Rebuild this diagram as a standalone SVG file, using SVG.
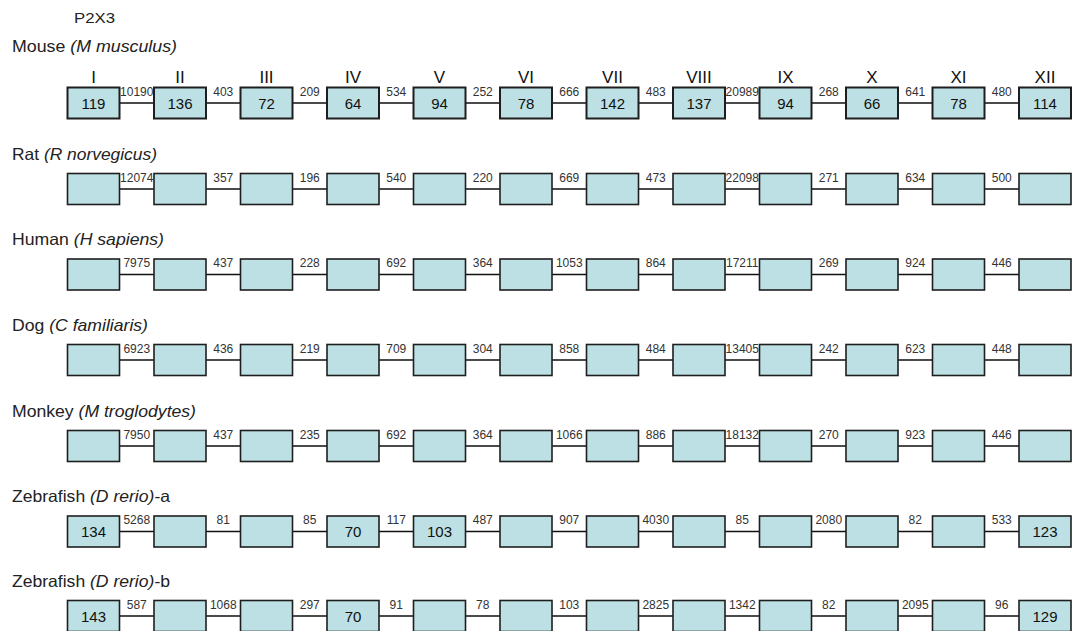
<svg xmlns="http://www.w3.org/2000/svg" width="1075" height="631" viewBox="0 0 1075 631">
<style>
.bg{fill:#ffffff}
.box{fill:#bce0e3;stroke:#1e1e1e;stroke-width:1.6}
.mb{stroke-width:2}
.lbl{font-family:"Liberation Sans",Arial,sans-serif;font-size:16.5px;fill:#222}
.it{font-style:italic}
.num{font-family:"Liberation Sans",Arial,sans-serif;font-size:15px;fill:#111;text-anchor:middle}
.gap{font-family:"Liberation Sans",Arial,sans-serif;font-size:12px;fill:#333;text-anchor:middle}
.rom{font-family:"Liberation Sans",Arial,sans-serif;font-size:17px;fill:#111;text-anchor:middle}
.con{fill:none;stroke:#111;stroke-width:1.5}
</style>
<rect class="bg" x="0" y="0" width="1075" height="631"/>
<text class="lbl" x="74" y="23" textLength="41" lengthAdjust="spacingAndGlyphs" style="font-size:15px">P2X3</text>
<text class="lbl" x="12" y="51.5" textLength="165" lengthAdjust="spacingAndGlyphs">Mouse <tspan class="it">(M musculus)</tspan></text>
<text class="lbl" x="12" y="159.5" textLength="145" lengthAdjust="spacingAndGlyphs">Rat <tspan class="it">(R norvegicus)</tspan></text>
<text class="lbl" x="12" y="245" textLength="152" lengthAdjust="spacingAndGlyphs">Human <tspan class="it">(H sapiens)</tspan></text>
<text class="lbl" x="12" y="330.5" textLength="136" lengthAdjust="spacingAndGlyphs">Dog <tspan class="it">(C familiaris)</tspan></text>
<text class="lbl" x="12" y="416.5" textLength="184" lengthAdjust="spacingAndGlyphs">Monkey <tspan class="it">(M troglodytes)</tspan></text>
<text class="lbl" x="12" y="502" textLength="158" lengthAdjust="spacingAndGlyphs">Zebrafish <tspan class="it">(D rerio)</tspan>-a</text>
<text class="lbl" x="12" y="586.5" textLength="158" lengthAdjust="spacingAndGlyphs">Zebrafish <tspan class="it">(D rerio)</tspan>-b</text>
<g id="exon-numerals">
<text class="rom" x="93.5" y="83">I</text>
<text class="rom" x="180" y="83">II</text>
<text class="rom" x="266.5" y="83">III</text>
<text class="rom" x="353" y="83">IV</text>
<text class="rom" x="439.5" y="83">V</text>
<text class="rom" x="526" y="83">VI</text>
<text class="rom" x="612.5" y="83">VII</text>
<text class="rom" x="699" y="83">VIII</text>
<text class="rom" x="785.5" y="83">IX</text>
<text class="rom" x="872" y="83">X</text>
<text class="rom" x="958.5" y="83">XI</text>
<text class="rom" x="1045" y="83">XII</text>
</g>
<g id="connectors">
<path class="con" d="M119.5 103H154M206 103H240.5M292.5 103H327M379 103H413.5M465.5 103H500M552 103H586.5M638.5 103H673M725 103H759.5M811.5 103H846M898 103H932.5M984.5 103H1019"/>
<path class="con" d="M119.5 189H154M206 189H240.5M292.5 189H327M379 189H413.5M465.5 189H500M552 189H586.5M638.5 189H673M725 189H759.5M811.5 189H846M898 189H932.5M984.5 189H1019"/>
<path class="con" d="M119.5 274.5H154M206 274.5H240.5M292.5 274.5H327M379 274.5H413.5M465.5 274.5H500M552 274.5H586.5M638.5 274.5H673M725 274.5H759.5M811.5 274.5H846M898 274.5H932.5M984.5 274.5H1019"/>
<path class="con" d="M119.5 360H154M206 360H240.5M292.5 360H327M379 360H413.5M465.5 360H500M552 360H586.5M638.5 360H673M725 360H759.5M811.5 360H846M898 360H932.5M984.5 360H1019"/>
<path class="con" d="M119.5 446H154M206 446H240.5M292.5 446H327M379 446H413.5M465.5 446H500M552 446H586.5M638.5 446H673M725 446H759.5M811.5 446H846M898 446H932.5M984.5 446H1019"/>
<path class="con" d="M119.5 531.5H154M206 531.5H240.5M292.5 531.5H327M379 531.5H413.5M465.5 531.5H500M552 531.5H586.5M638.5 531.5H673M725 531.5H759.5M811.5 531.5H846M898 531.5H932.5M984.5 531.5H1019"/>
<path class="con" d="M119.5 616H154M206 616H240.5M292.5 616H327M379 616H413.5M465.5 616H500M552 616H586.5M638.5 616H673M725 616H759.5M811.5 616H846M898 616H932.5M984.5 616H1019"/>
<g id="intron-lengths">
<text class="gap" x="136.75" y="95.5">10190</text><text class="gap" x="223.25" y="95.5">403</text><text class="gap" x="309.75" y="95.5">209</text><text class="gap" x="396.25" y="95.5">534</text><text class="gap" x="482.75" y="95.5">252</text><text class="gap" x="569.25" y="95.5">666</text><text class="gap" x="655.75" y="95.5">483</text><text class="gap" x="742.25" y="95.5">20989</text><text class="gap" x="828.75" y="95.5">268</text><text class="gap" x="915.25" y="95.5">641</text><text class="gap" x="1001.75" y="95.5">480</text>
<text class="gap" x="136.75" y="181.5">12074</text><text class="gap" x="223.25" y="181.5">357</text><text class="gap" x="309.75" y="181.5">196</text><text class="gap" x="396.25" y="181.5">540</text><text class="gap" x="482.75" y="181.5">220</text><text class="gap" x="569.25" y="181.5">669</text><text class="gap" x="655.75" y="181.5">473</text><text class="gap" x="742.25" y="181.5">22098</text><text class="gap" x="828.75" y="181.5">271</text><text class="gap" x="915.25" y="181.5">634</text><text class="gap" x="1001.75" y="181.5">500</text>
<text class="gap" x="136.75" y="267">7975</text><text class="gap" x="223.25" y="267">437</text><text class="gap" x="309.75" y="267">228</text><text class="gap" x="396.25" y="267">692</text><text class="gap" x="482.75" y="267">364</text><text class="gap" x="569.25" y="267">1053</text><text class="gap" x="655.75" y="267">864</text><text class="gap" x="742.25" y="267">17211</text><text class="gap" x="828.75" y="267">269</text><text class="gap" x="915.25" y="267">924</text><text class="gap" x="1001.75" y="267">446</text>
<text class="gap" x="136.75" y="352.5">6923</text><text class="gap" x="223.25" y="352.5">436</text><text class="gap" x="309.75" y="352.5">219</text><text class="gap" x="396.25" y="352.5">709</text><text class="gap" x="482.75" y="352.5">304</text><text class="gap" x="569.25" y="352.5">858</text><text class="gap" x="655.75" y="352.5">484</text><text class="gap" x="742.25" y="352.5">13405</text><text class="gap" x="828.75" y="352.5">242</text><text class="gap" x="915.25" y="352.5">623</text><text class="gap" x="1001.75" y="352.5">448</text>
<text class="gap" x="136.75" y="438.5">7950</text><text class="gap" x="223.25" y="438.5">437</text><text class="gap" x="309.75" y="438.5">235</text><text class="gap" x="396.25" y="438.5">692</text><text class="gap" x="482.75" y="438.5">364</text><text class="gap" x="569.25" y="438.5">1066</text><text class="gap" x="655.75" y="438.5">886</text><text class="gap" x="742.25" y="438.5">18132</text><text class="gap" x="828.75" y="438.5">270</text><text class="gap" x="915.25" y="438.5">923</text><text class="gap" x="1001.75" y="438.5">446</text>
<text class="gap" x="136.75" y="524">5268</text><text class="gap" x="223.25" y="524">81</text><text class="gap" x="309.75" y="524">85</text><text class="gap" x="396.25" y="524">117</text><text class="gap" x="482.75" y="524">487</text><text class="gap" x="569.25" y="524">907</text><text class="gap" x="655.75" y="524">4030</text><text class="gap" x="742.25" y="524">85</text><text class="gap" x="828.75" y="524">2080</text><text class="gap" x="915.25" y="524">82</text><text class="gap" x="1001.75" y="524">533</text>
<text class="gap" x="136.75" y="608.5">587</text><text class="gap" x="223.25" y="608.5">1068</text><text class="gap" x="309.75" y="608.5">297</text><text class="gap" x="396.25" y="608.5">91</text><text class="gap" x="482.75" y="608.5">78</text><text class="gap" x="569.25" y="608.5">103</text><text class="gap" x="655.75" y="608.5">2825</text><text class="gap" x="742.25" y="608.5">1342</text><text class="gap" x="828.75" y="608.5">82</text><text class="gap" x="915.25" y="608.5">2095</text><text class="gap" x="1001.75" y="608.5">96</text>
</g>
</g>
<g id="mouse-row">
<g id="mouse-e1"><rect class="box mb" x="67.5" y="87.5" width="52" height="31"/><text class="num" x="93.5" y="108.5">119</text></g>
<g id="mouse-e2"><rect class="box mb" x="154" y="87.5" width="52" height="31"/><text class="num" x="180" y="108.5">136</text></g>
<g id="mouse-e3"><rect class="box mb" x="240.5" y="87.5" width="52" height="31"/><text class="num" x="266.5" y="108.5">72</text></g>
<g id="mouse-e4"><rect class="box mb" x="327" y="87.5" width="52" height="31"/><text class="num" x="353" y="108.5">64</text></g>
<g id="mouse-e5"><rect class="box mb" x="413.5" y="87.5" width="52" height="31"/><text class="num" x="439.5" y="108.5">94</text></g>
<g id="mouse-e6"><rect class="box mb" x="500" y="87.5" width="52" height="31"/><text class="num" x="526" y="108.5">78</text></g>
<g id="mouse-e7"><rect class="box mb" x="586.5" y="87.5" width="52" height="31"/><text class="num" x="612.5" y="108.5">142</text></g>
<g id="mouse-e8"><rect class="box mb" x="673" y="87.5" width="52" height="31"/><text class="num" x="699" y="108.5">137</text></g>
<g id="mouse-e9"><rect class="box mb" x="759.5" y="87.5" width="52" height="31"/><text class="num" x="785.5" y="108.5">94</text></g>
<g id="mouse-e10"><rect class="box mb" x="846" y="87.5" width="52" height="31"/><text class="num" x="872" y="108.5">66</text></g>
<g id="mouse-e11"><rect class="box mb" x="932.5" y="87.5" width="52" height="31"/><text class="num" x="958.5" y="108.5">78</text></g>
<g id="mouse-e12"><rect class="box mb" x="1019" y="87.5" width="52" height="31"/><text class="num" x="1045" y="108.5">114</text></g>
</g>
<g id="rat-row">
<g id="rat-e1"><rect class="box" x="67.5" y="173.5" width="52" height="31"/></g>
<g id="rat-e2"><rect class="box" x="154" y="173.5" width="52" height="31"/></g>
<g id="rat-e3"><rect class="box" x="240.5" y="173.5" width="52" height="31"/></g>
<g id="rat-e4"><rect class="box" x="327" y="173.5" width="52" height="31"/></g>
<g id="rat-e5"><rect class="box" x="413.5" y="173.5" width="52" height="31"/></g>
<g id="rat-e6"><rect class="box" x="500" y="173.5" width="52" height="31"/></g>
<g id="rat-e7"><rect class="box" x="586.5" y="173.5" width="52" height="31"/></g>
<g id="rat-e8"><rect class="box" x="673" y="173.5" width="52" height="31"/></g>
<g id="rat-e9"><rect class="box" x="759.5" y="173.5" width="52" height="31"/></g>
<g id="rat-e10"><rect class="box" x="846" y="173.5" width="52" height="31"/></g>
<g id="rat-e11"><rect class="box" x="932.5" y="173.5" width="52" height="31"/></g>
<g id="rat-e12"><rect class="box" x="1019" y="173.5" width="52" height="31"/></g>
</g>
<g id="human-row">
<g id="human-e1"><rect class="box" x="67.5" y="259" width="52" height="31"/></g>
<g id="human-e2"><rect class="box" x="154" y="259" width="52" height="31"/></g>
<g id="human-e3"><rect class="box" x="240.5" y="259" width="52" height="31"/></g>
<g id="human-e4"><rect class="box" x="327" y="259" width="52" height="31"/></g>
<g id="human-e5"><rect class="box" x="413.5" y="259" width="52" height="31"/></g>
<g id="human-e6"><rect class="box" x="500" y="259" width="52" height="31"/></g>
<g id="human-e7"><rect class="box" x="586.5" y="259" width="52" height="31"/></g>
<g id="human-e8"><rect class="box" x="673" y="259" width="52" height="31"/></g>
<g id="human-e9"><rect class="box" x="759.5" y="259" width="52" height="31"/></g>
<g id="human-e10"><rect class="box" x="846" y="259" width="52" height="31"/></g>
<g id="human-e11"><rect class="box" x="932.5" y="259" width="52" height="31"/></g>
<g id="human-e12"><rect class="box" x="1019" y="259" width="52" height="31"/></g>
</g>
<g id="dog-row">
<g id="dog-e1"><rect class="box" x="67.5" y="344.5" width="52" height="31"/></g>
<g id="dog-e2"><rect class="box" x="154" y="344.5" width="52" height="31"/></g>
<g id="dog-e3"><rect class="box" x="240.5" y="344.5" width="52" height="31"/></g>
<g id="dog-e4"><rect class="box" x="327" y="344.5" width="52" height="31"/></g>
<g id="dog-e5"><rect class="box" x="413.5" y="344.5" width="52" height="31"/></g>
<g id="dog-e6"><rect class="box" x="500" y="344.5" width="52" height="31"/></g>
<g id="dog-e7"><rect class="box" x="586.5" y="344.5" width="52" height="31"/></g>
<g id="dog-e8"><rect class="box" x="673" y="344.5" width="52" height="31"/></g>
<g id="dog-e9"><rect class="box" x="759.5" y="344.5" width="52" height="31"/></g>
<g id="dog-e10"><rect class="box" x="846" y="344.5" width="52" height="31"/></g>
<g id="dog-e11"><rect class="box" x="932.5" y="344.5" width="52" height="31"/></g>
<g id="dog-e12"><rect class="box" x="1019" y="344.5" width="52" height="31"/></g>
</g>
<g id="monkey-row">
<g id="monkey-e1"><rect class="box" x="67.5" y="430.5" width="52" height="31"/></g>
<g id="monkey-e2"><rect class="box" x="154" y="430.5" width="52" height="31"/></g>
<g id="monkey-e3"><rect class="box" x="240.5" y="430.5" width="52" height="31"/></g>
<g id="monkey-e4"><rect class="box" x="327" y="430.5" width="52" height="31"/></g>
<g id="monkey-e5"><rect class="box" x="413.5" y="430.5" width="52" height="31"/></g>
<g id="monkey-e6"><rect class="box" x="500" y="430.5" width="52" height="31"/></g>
<g id="monkey-e7"><rect class="box" x="586.5" y="430.5" width="52" height="31"/></g>
<g id="monkey-e8"><rect class="box" x="673" y="430.5" width="52" height="31"/></g>
<g id="monkey-e9"><rect class="box" x="759.5" y="430.5" width="52" height="31"/></g>
<g id="monkey-e10"><rect class="box" x="846" y="430.5" width="52" height="31"/></g>
<g id="monkey-e11"><rect class="box" x="932.5" y="430.5" width="52" height="31"/></g>
<g id="monkey-e12"><rect class="box" x="1019" y="430.5" width="52" height="31"/></g>
</g>
<g id="zebrafish-a-row">
<g id="zfa-e1"><rect class="box" x="67.5" y="516" width="52" height="31"/><text class="num" x="93.5" y="537">134</text></g>
<g id="zfa-e2"><rect class="box" x="154" y="516" width="52" height="31"/></g>
<g id="zfa-e3"><rect class="box" x="240.5" y="516" width="52" height="31"/></g>
<g id="zfa-e4"><rect class="box" x="327" y="516" width="52" height="31"/><text class="num" x="353" y="537">70</text></g>
<g id="zfa-e5"><rect class="box" x="413.5" y="516" width="52" height="31"/><text class="num" x="439.5" y="537">103</text></g>
<g id="zfa-e6"><rect class="box" x="500" y="516" width="52" height="31"/></g>
<g id="zfa-e7"><rect class="box" x="586.5" y="516" width="52" height="31"/></g>
<g id="zfa-e8"><rect class="box" x="673" y="516" width="52" height="31"/></g>
<g id="zfa-e9"><rect class="box" x="759.5" y="516" width="52" height="31"/></g>
<g id="zfa-e10"><rect class="box" x="846" y="516" width="52" height="31"/></g>
<g id="zfa-e11"><rect class="box" x="932.5" y="516" width="52" height="31"/></g>
<g id="zfa-e12"><rect class="box" x="1019" y="516" width="52" height="31"/><text class="num" x="1045" y="537">123</text></g>
</g>
<g id="zebrafish-b-row">
<g id="zfb-e1"><rect class="box" x="67.5" y="600.5" width="52" height="31"/><text class="num" x="93.5" y="621.5">143</text></g>
<g id="zfb-e2"><rect class="box" x="154" y="600.5" width="52" height="31"/></g>
<g id="zfb-e3"><rect class="box" x="240.5" y="600.5" width="52" height="31"/></g>
<g id="zfb-e4"><rect class="box" x="327" y="600.5" width="52" height="31"/><text class="num" x="353" y="621.5">70</text></g>
<g id="zfb-e5"><rect class="box" x="413.5" y="600.5" width="52" height="31"/></g>
<g id="zfb-e6"><rect class="box" x="500" y="600.5" width="52" height="31"/></g>
<g id="zfb-e7"><rect class="box" x="586.5" y="600.5" width="52" height="31"/></g>
<g id="zfb-e8"><rect class="box" x="673" y="600.5" width="52" height="31"/></g>
<g id="zfb-e9"><rect class="box" x="759.5" y="600.5" width="52" height="31"/></g>
<g id="zfb-e10"><rect class="box" x="846" y="600.5" width="52" height="31"/></g>
<g id="zfb-e11"><rect class="box" x="932.5" y="600.5" width="52" height="31"/></g>
<g id="zfb-e12"><rect class="box" x="1019" y="600.5" width="52" height="31"/><text class="num" x="1045" y="621.5">129</text></g>
</g>
</svg>
